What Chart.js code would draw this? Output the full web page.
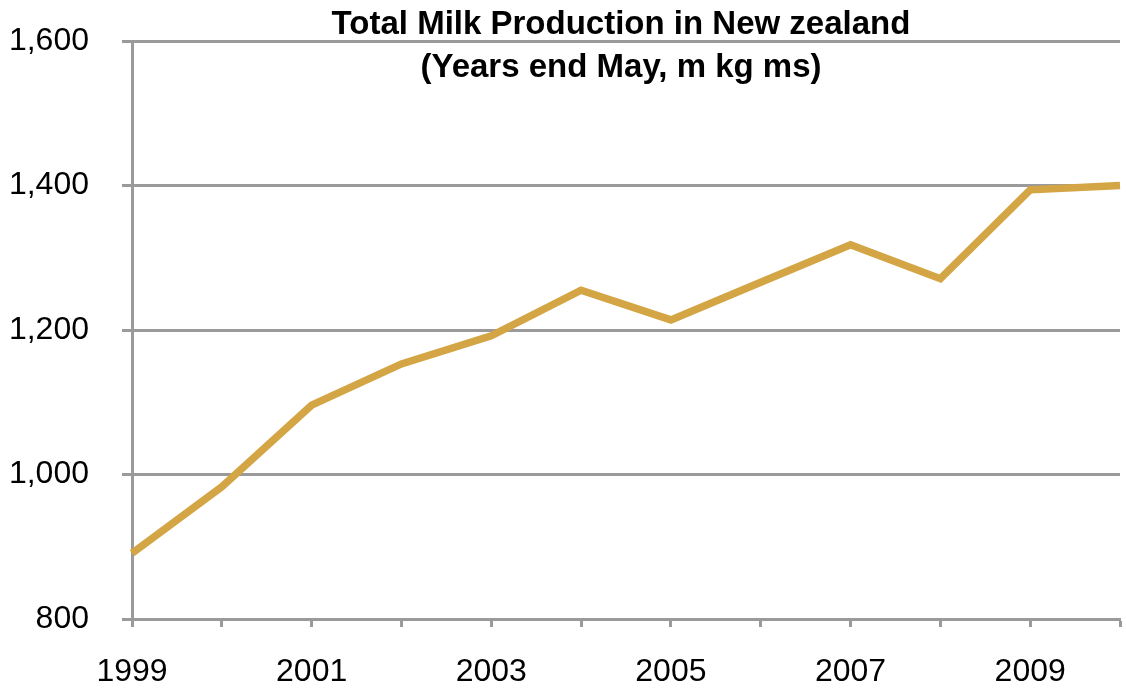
<!DOCTYPE html>
<html>
<head>
<meta charset="utf-8">
<script src="https://cdn.jsdelivr.net/npm/chart.js@4.4.1/dist/chart.umd.min.js"></script>
<style>
  html, body { margin: 0; padding: 0; background: #ffffff; }
  #wrap { width: 1126px; height: 689px; position: relative; }
</style>
</head>
<body>
<div id="wrap"><canvas id="c" width="1126" height="689"></canvas></div>
<script>
// Years (end May) and total milk production, million kg milksolids
const years = ['1999','2000','2001','2002','2003','2004','2005','2006','2007','2008','2009','2010'];
const production = [891, 983, 1096, 1153, 1192, 1255, 1214, 1266, 1318, 1271, 1394, 1400];
const titleLines = ['Total Milk Production in New zealand', '(Years end May, m kg ms)'];

const GRID = '#9a9a9a';
const FONT = '"Liberation Sans", Arial, sans-serif';

// Draws the two-line heading over the top of the plot area
const titleOverlay = {
  id: 'titleOverlay',
  afterDraw(chart) {
    const ctx = chart.ctx;
    const area = chart.chartArea;
    const cx = (area.left + area.right) / 2 - 5;
    ctx.save();
    ctx.fillStyle = '#000';
    ctx.font = 'bold 33px ' + FONT;
    ctx.textAlign = 'center';
    ctx.textBaseline = 'middle';
    ctx.fillText(titleLines[0], cx, 25);
    ctx.fillText(titleLines[1], cx, 68);
    ctx.restore();
  }
};

new Chart(document.getElementById('c'), {
  type: 'line',
  data: {
    labels: years,
    datasets: [{
      data: production,
      borderColor: '#d4a544',
      borderWidth: 7.5,
      pointRadius: 0,
      tension: 0,
      fill: false,
      borderJoinStyle: 'miter'
    }]
  },
  options: {
    responsive: false,
    animation: false,
    devicePixelRatio: 1,
    layout: { padding: { top: 41, right: 6, bottom: 0, left: 0 } },
    plugins: {
      legend: { display: false },
      title: { display: false },
      tooltip: { enabled: false }
    },
    scales: {
      x: {
        type: 'category',
        offset: false,
        grid: {
          display: true,
          drawOnChartArea: false,
          drawTicks: true,
          tickLength: 8,
          tickWidth: 3,
          tickColor: GRID
        },
        border: { display: true, color: GRID, width: 3 },
        ticks: {
          autoSkip: false,
          maxRotation: 0,
          padding: 26,
          color: '#000',
          font: { family: FONT, size: 32 },
          callback(value, index) {
            return index % 2 === 0 ? years[index] : '';
          }
        },
        afterFit(scale) {
          scale.height = 70;
          scale.paddingLeft = 0;
          scale.paddingRight = 0;
        }
      },
      y: {
        min: 800,
        max: 1600,
        grid: {
          color: GRID,
          lineWidth: 3,
          drawTicks: true,
          tickLength: 10,
          tickColor: GRID
        },
        border: { display: true, color: GRID, width: 3 },
        ticks: {
          stepSize: 200,
          padding: 33,
          color: '#000',
          font: { family: FONT, size: 32 },
          callback(value) { return value.toLocaleString('en-US'); }
        },
        afterFit(scale) {
          scale.width = 132;
          scale.paddingTop = 0;
          scale.paddingBottom = 0;
        }
      }
    }
  },
  plugins: [titleOverlay]
});
</script>
</body>
</html>
